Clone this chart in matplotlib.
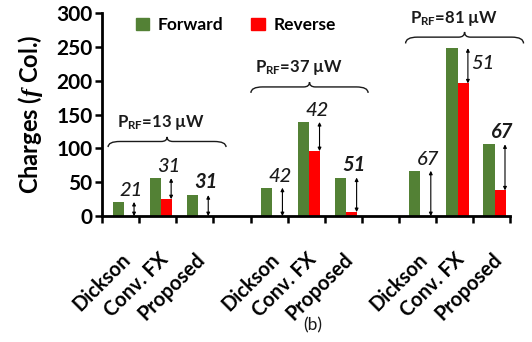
import matplotlib
matplotlib.use("Agg")
import matplotlib.pyplot as plt
import matplotlib.transforms as mtransforms
import numpy as np
from matplotlib.path import Path
from matplotlib.patches import PathPatch, Patch

plt.rcParams['font.family'] = ['Lato', 'DejaVu Sans']
plt.rcParams['mathtext.fontset'] = 'custom'
plt.rcParams['mathtext.rm'] = 'Lato'
plt.rcParams['mathtext.bf'] = 'Lato:bold'
plt.rcParams['mathtext.it'] = 'Liberation Serif:italic:bold'

# ---- data ----
categories = ["Dickson", "Conv. FX", "Proposed", "",
              "Dickson", "Conv. FX", "Proposed", "",
              "Dickson", "Conv. FX", "Proposed"]
forward = [21, 56, 31, None, 42, 139, 57, None, 67, 248, 106]
reverse = [0, 25, 0, None, 0, 96, 6, None, 0, 196, 38]
diff_labels = ["21", "31", "31", "", "42", "42", "51", "", "67", "51", "67"]
label_bold = [False, False, True, False, False, False, True, False, False, False, True]
groups = ["13", "37", "81"]
yticks = [0, 50, 100, 150, 200, 250, 300]

GREEN = '#538135'
RED = '#ff0000'
TXT = '#1a1a1a'

fig = plt.figure(figsize=(5.32, 3.42), dpi=100)
ax = fig.add_axes([0.192, 0.368, 0.767, 0.594])

x = np.arange(len(categories)) + 0.5
w = 0.30
for i, xi in enumerate(x):
    if forward[i] is None:
        continue
    ax.bar(xi - 0.07, forward[i], width=w, color=GREEN, zorder=2)
    if reverse[i] > 0:
        ax.bar(xi + 0.23, reverse[i], width=w, color=RED, zorder=2)
    ax.annotate("", xy=(xi + 0.36, forward[i]), xytext=(xi + 0.36, reverse[i]),
                arrowprops=dict(arrowstyle='<|-|>', lw=0.8, color='black',
                                mutation_scale=5, shrinkA=0, shrinkB=0),
                zorder=3)
    fw = 'bold' if label_bold[i] else 'medium'
    if i == 9:
        ax.text(xi + 0.77, (forward[i] + reverse[i]) / 2 + 3, diff_labels[i],
                ha='center', va='center', fontsize=14.5, style='italic',
                fontweight=fw, color=TXT)
    else:
        ax.annotate(diff_labels[i], xy=(xi + 0.29, forward[i]), xytext=(0, 2),
                    textcoords='offset points', ha='center', va='bottom',
                    fontsize=14.5, style='italic', fontweight=fw, color=TXT)


def brace(ax, x0, x1, y, h):
    xm = (x0 + x1) / 2
    q = (x1 - x0) * 0.10
    qt = (x1 - x0) * 0.05
    ym = y + h * 0.55
    verts = [(x0, y), (x0, ym), (x0 + q, ym),
             (xm - qt, ym),
             (xm, ym), (xm, y + h),
             (xm, ym), (xm + qt, ym),
             (x1 - q, ym),
             (x1, ym), (x1, y)]
    codes = [Path.MOVETO, Path.CURVE3, Path.CURVE3,
             Path.LINETO,
             Path.CURVE3, Path.CURVE3,
             Path.CURVE3, Path.CURVE3,
             Path.LINETO,
             Path.CURVE3, Path.CURVE3]
    p = PathPatch(Path(verts, codes), fill=False, lw=1.0, color=TXT,
                  clip_on=False, zorder=3)
    ax.add_patch(p)


brace_spec = [(0.16, 3.34, 102, 15, 1.58, 139),
              (4.01, 7.17, 182, 16, 5.32, 220),
              (8.18, 11.36, 255, 17, 9.49, 292)]
for g, (b0, b1, by, bh, tx, ty) in zip(groups, brace_spec):
    brace(ax, b0, b1, by, bh)
    ax.text(tx, ty, r"P$_{\mathbf{RF}}$=" + g + " µW", ha='center', va='center',
            fontsize=12, fontweight='bold', color=TXT, clip_on=False)

ax.set_xlim(0, len(categories))
ax.set_ylim(0, 300)
ax.set_yticks(yticks)
ax.set_yticklabels([str(t) for t in yticks], fontsize=15, fontweight='bold')
ax.set_xticks(np.arange(len(categories) + 1))
ax.set_xticklabels([])
ax.set_xticks(x, minor=True)
ax.set_xticklabels(categories, minor=True, rotation=45, ha='right',
                   rotation_mode='anchor', fontsize=14.5, fontweight='bold')
shift = mtransforms.ScaledTranslation(7 / 100, 0, fig.dpi_scale_trans)
for lab in ax.get_xticklabels(minor=True):
    lab.set_transform(lab.get_transform() + shift)
ax.tick_params(axis='x', which='minor', length=0, pad=24)
ax.tick_params(axis='x', which='major', length=5, width=1.8, direction='out')
ax.tick_params(axis='y', length=5, width=1.8, direction='out', pad=2)
for s in ['top', 'right']:
    ax.spines[s].set_visible(False)
for s in ['left', 'bottom']:
    ax.spines[s].set_linewidth(2)

ax.set_ylabel(r"Charges ($f$ Col.)", fontsize=17, fontweight='bold', labelpad=8)

handles = [Patch(color=GREEN, label='Forward'), Patch(color=RED, label='Reverse')]
ax.legend(handles=handles, loc='center', bbox_to_anchor=(0.328, 0.94), ncol=2,
          frameon=False, handlelength=0.75, handleheight=0.75, handletextpad=0.5,
          columnspacing=1.6, prop={'weight': 'bold', 'size': 12.5})

fig.text(0.588, 0.05, "(b)", ha='center', va='center', fontsize=12.5, color=TXT)

fig.savefig("out.png", dpi=100)
